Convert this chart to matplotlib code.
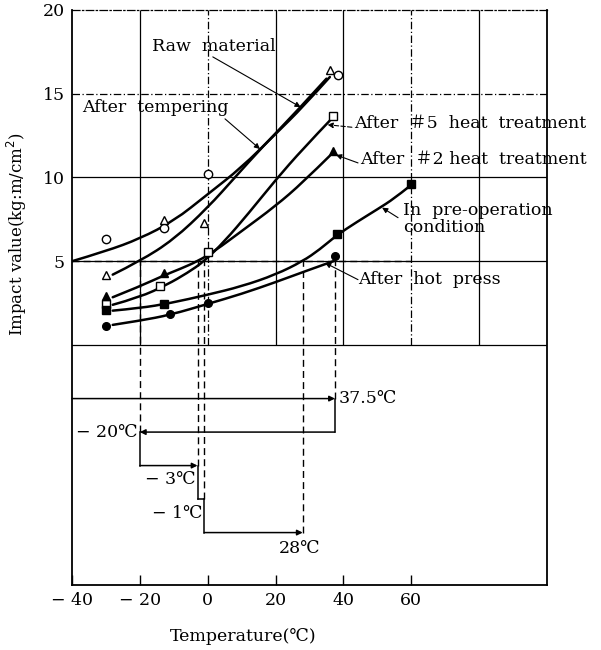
import numpy as np
import matplotlib.pyplot as plt
from matplotlib.path import Path
from matplotlib.patches import PathPatch

plt.rcParams['font.family'] = ['DejaVu Serif', 'Noto Sans CJK JP']
plt.rcParams['font.size'] = 12.5

# --- measured points: temperature [°C], impact value [kg·m/cm2] ---
raw_t = [-30, -13, 0, 38.5]
raw_v = [6.3, 7.0, 10.2, 16.1]
temper_t = [-30, -13, -1, 36]
temper_v = [4.2, 7.45, 7.3, 16.4]
ht5_t = [-30, -14, 0, 37]
ht5_v = [2.45, 3.5, 5.55, 13.7]
ht2_t = [-30, -13, 37]
ht2_v = [2.9, 4.3, 11.6]
preop_t = [-30, -13, 38, 60]
preop_v = [2.1, 2.45, 6.6, 9.6]
press_t = [-30, -11, 0, 37.5]
press_v = [1.15, 1.85, 2.5, 5.3]

# --- faired curves through the data ---
raw_ct = [-40, -30, -20, -10, 0, 10, 20, 28, 36]
raw_cv = [5.0, 5.6, 6.35, 7.4, 9.0, 10.6, 12.6, 14.2, 16.0]
temper_ct = [-28, -20, -10, 0, 8, 16, 26, 35]
temper_cv = [4.2, 5.0, 6.3, 8.2, 10.0, 11.8, 13.9, 15.9]
ht5_ct = [-28, -20, -12, -6, -1, 5, 12, 20, 28, 36]
ht5_cv = [2.4, 2.85, 3.6, 4.3, 5.0, 6.2, 7.85, 9.85, 11.7, 13.4]
ht2_ct = [-28, -20, -13, -8, -3, 2, 10, 20, 28, 36]
ht2_cv = [2.85, 3.5, 4.15, 4.55, 5.0, 5.6, 6.8, 8.3, 9.7, 11.3]
preop_ct = [-28, -20, -11, 0, 10, 20, 28, 33, 38, 44, 50, 55, 59]
preop_cv = [2.05, 2.2, 2.5, 3.0, 3.5, 4.2, 5.0, 5.7, 6.55, 7.35, 8.1, 8.75, 9.4]
press_ct = [-28, -20, -11, 0, 10, 20, 28, 37]
press_cv = [1.2, 1.45, 1.8, 2.45, 3.05, 3.75, 4.35, 5.0]

# transition temperatures at 5 kg·m/cm2, in process order
criterion = 5
trans_temps = [-40, 37.5, -20, -3, -1, 28]


def faired_path(ts, vs):
    # quadratic bezier through the midpoints, read points as control points
    pts = list(zip(ts, vs))
    verts = [pts[0]]
    codes = [Path.MOVETO]
    for i in range(1, len(pts) - 1):
        if i == len(pts) - 2:
            end = pts[-1]
        else:
            end = ((pts[i][0] + pts[i + 1][0]) / 2,
                   (pts[i][1] + pts[i + 1][1]) / 2)
        verts += [pts[i], end]
        codes += [Path.CURVE3, Path.CURVE3]
    return Path(verts, codes)


fig = plt.figure(figsize=(6.01, 6.5), dpi=100)
ax = fig.add_axes([72 / 601, 65 / 650, 475 / 601, 575 / 650])
ax.set_xlim(-40, 100)
ax.set_ylim(-14.33, 20)

# grid of the upper chart
dashdot = (0, (6, 2, 1, 2))
for y, ls in [(0, '-'), (5, '-'), (10, '-'), (15, dashdot)]:
    ax.axhline(y, color='black', lw=0.9, ls=ls)
for x, ls in [(-20, '-'), (0, dashdot), (20, '-'), (40, '-'),
              (60, dashdot), (80, '-')]:
    ax.vlines(x, 0, 20, color='black', lw=0.9, ls=ls)

# curves
for ct, cv in [(raw_ct, raw_cv), (temper_ct, temper_cv), (ht5_ct, ht5_cv),
               (ht2_ct, ht2_cv), (preop_ct, preop_cv), (press_ct, press_cv)]:
    ax.add_patch(PathPatch(faired_path(ct, cv), fill=False, color='black',
                           lw=1.8, capstyle='round', zorder=3))

# markers
mk = dict(color='black', ls='none', zorder=4, markeredgewidth=1.0)
ax.plot(raw_t, raw_v, marker='o', ms=6, mfc='white', **mk)
ax.plot(temper_t, temper_v, marker='^', ms=6, mfc='white', **mk)
ax.plot(ht5_t, ht5_v, marker='s', ms=6, mfc='white', **mk)
ax.plot(ht2_t, ht2_v, marker='^', ms=6, mfc='black', **mk)
ax.plot(preop_t, preop_v, marker='s', ms=6, mfc='black', **mk)
ax.plot(press_t, press_v, marker='o', ms=5.5, mfc='black', **mk)

# labels with leader lines
lead = dict(arrowstyle='-|>', color='black', lw=0.8, mutation_scale=8,
            shrinkA=0, shrinkB=0)
ax.text(-16.4, 17.8, 'Raw  material', va='center')
ax.annotate('', xy=(27.4, 14.2), xytext=(1.5, 17.2), arrowprops=lead)
ax.text(-37.0, 14.2, 'After  tempering', va='center')
ax.annotate('', xy=(15.4, 11.7), xytext=(5.1, 13.5), arrowprops=lead)
ax.text(43.1, 13.2, 'After  ＃5  heat  treatment', va='center')
ax.annotate('', xy=(35.3, 13.15), xytext=(42.5, 13.0),
            arrowprops=dict(lead, ls=(0, (4, 2))))
ax.text(44.9, 11.05, 'After  ＃2 heat  treatment', va='center')
ax.annotate('', xy=(37.8, 11.35), xytext=(44.3, 10.87), arrowprops=lead)
ax.text(57.5, 7.5, 'In  pre-operation\ncondition', va='center',
        linespacing=1.0)
ax.annotate('', xy=(51.4, 8.2), xytext=(56.1, 7.6), arrowprops=lead)
ax.text(44.3, 3.9, 'After  hot  press', va='center')
ax.annotate('', xy=(34.6, 4.9), xytext=(44.3, 3.9), arrowprops=lead)

# transition temperature diagram
levels = [-3.2 - 2.0 * i for i in range(len(trans_temps) - 1)]
ax.hlines(criterion, -40, 60, color='black', lw=1.0, ls=(0, (5, 3)))
for i, t in enumerate(trans_temps[1:]):
    ax.vlines(t, levels[i], criterion, color='black', lw=1.0, ls=(0, (5, 3)))

step = dict(color='black', lw=1.1)
for i in range(len(levels)):
    t0, t1 = trans_temps[i], trans_temps[i + 1]
    if abs(t1 - t0) > 5:
        ax.annotate('', xy=(t1, levels[i]), xytext=(t0, levels[i]),
                    arrowprops=dict(arrowstyle='-|>', color='black', lw=1.1,
                                    mutation_scale=8, shrinkA=0, shrinkB=0))
    else:
        ax.plot([t0, t1], [levels[i], levels[i]], **step)
    if i + 1 < len(levels):
        ax.plot([t1, t1], [levels[i], levels[i + 1]], **step)


def deg_label(t):
    s = f'{abs(t):g}℃'
    return '− ' + s if t < 0 else s


ax.text(trans_temps[1] + 1.0, levels[0], deg_label(trans_temps[1]),
        ha='left', va='center')
ax.text(trans_temps[2] - 0.6, levels[1], deg_label(trans_temps[2]),
        ha='right', va='center')
ax.text(trans_temps[3] - 0.6, levels[2] - 0.85, deg_label(trans_temps[3]),
        ha='right', va='center')
ax.text(trans_temps[4] - 0.6, levels[3] - 0.85, deg_label(trans_temps[4]),
        ha='right', va='center')
ax.text(trans_temps[5] - 1.0, levels[4] - 0.95, deg_label(trans_temps[5]),
        ha='center', va='center')

# axes
for side in ['left', 'bottom', 'right']:
    ax.spines[side].set_linewidth(1.3)
ax.spines['top'].set_linewidth(0.9)
ax.spines['top'].set_linestyle(dashdot)

ax.set_yticks([5, 10, 15, 20])
ax.tick_params(axis='y', length=0, pad=5, labelsize=12.5)
ax.set_xticks([-40, -20, 0, 20, 40, 60])
ax.set_xticklabels(['− 40', '− 20', '0', '20', '40', '60'])
ax.tick_params(axis='x', direction='in', length=7, width=1.0, pad=5,
               labelsize=12.5)

ax.set_ylabel('Impact value(kg:m/cm$^2$)', fontsize=12)
ax.yaxis.set_label_coords(-0.09, 0.61)
ax.set_xlabel('Temperature(℃)', fontsize=12.5)
ax.xaxis.set_label_coords(0.36, -0.075)

fig.savefig('out.png', dpi=100, facecolor='white')
